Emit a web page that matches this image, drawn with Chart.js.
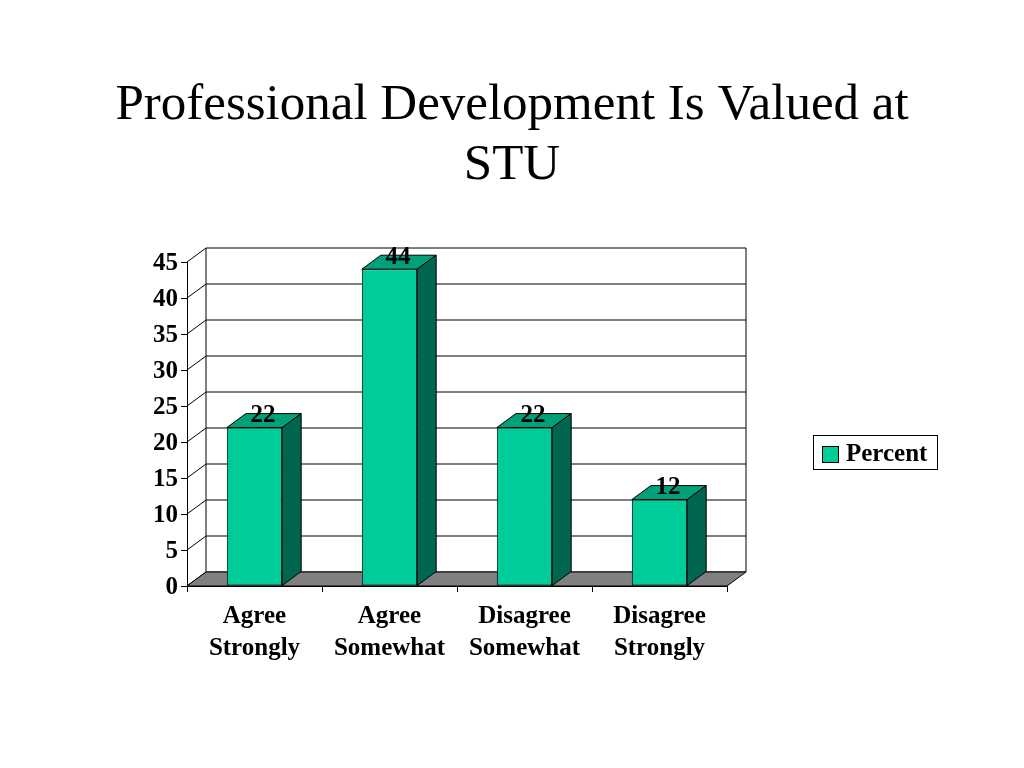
<!DOCTYPE html>
<html>
<head>
<meta charset="utf-8">
<title>Professional Development Is Valued at STU</title>
<script src="https://cdn.jsdelivr.net/npm/chart.js@4.4.1/dist/chart.umd.min.js"></script>
<style>
  body { margin: 0; background: #fff; }
  #chartBox { width: 1024px; height: 768px; }
</style>
</head>
<body>
<div id="chartBox"><canvas id="graphCanvas" width="1024" height="768"></canvas></div>
<script>
// values
var categories = [['Agree', 'Strongly'], ['Agree', 'Somewhat'], ['Disagree', 'Somewhat'], ['Disagree', 'Strongly']];
var percentValues = [22, 44, 22, 12];
var seriesName = 'Percent';
var titleLines = ['Professional Development Is Valued at', 'STU'];
var yMin = 0, yMax = 45, yStep = 5;

var serif = "'Liberation Serif', 'Times New Roman', serif";
var frontColor = '#00cc99';
var topColor = '#00a07a';
var sideColor = '#006650';
var floorColor = '#808080';
var depthX = 19, depthY = -14;

function poly(ctx, pts, fill) {
  ctx.beginPath();
  ctx.moveTo(pts[0][0], pts[0][1]);
  for (var i = 1; i < pts.length; i++) ctx.lineTo(pts[i][0], pts[i][1]);
  ctx.closePath();
  if (fill) { ctx.fillStyle = fill; ctx.fill(); }
  ctx.stroke();
}

// walls, floor, 3d faces of the columns, title and legend box
var boxPlugin = {
  id: 'box3d',
  beforeDatasetsDraw: function(chart) {
    var ctx = chart.ctx, area = chart.chartArea, y = chart.scales.y;
    ctx.save();
    ctx.strokeStyle = '#000';
    ctx.lineWidth = 1;
    y.ticks.forEach(function(t) {
      var py = y.getPixelForValue(t.value);
      ctx.beginPath();
      ctx.moveTo(area.left, py);
      ctx.lineTo(area.left + depthX, py + depthY);
      ctx.lineTo(area.right + depthX, py + depthY);
      ctx.stroke();
    });
    var top = y.getPixelForValue(yMax) + depthY;
    var bottom = y.getPixelForValue(yMin);
    ctx.beginPath();
    ctx.moveTo(area.left + depthX, top);
    ctx.lineTo(area.left + depthX, bottom + depthY);
    ctx.moveTo(area.right + depthX, top);
    ctx.lineTo(area.right + depthX, bottom + depthY);
    ctx.stroke();
    poly(ctx, [[area.left, bottom], [area.right, bottom], [area.right + depthX, bottom + depthY], [area.left + depthX, bottom + depthY]], floorColor);
    ctx.restore();
  },
  afterDatasetsDraw: function(chart) {
    var ctx = chart.ctx;
    var meta = chart.getDatasetMeta(0);
    ctx.save();
    ctx.strokeStyle = '#000';
    ctx.lineWidth = 1;
    meta.data.forEach(function(bar, i) {
      var p = bar.getProps(['x', 'y', 'base', 'width'], true);
      var l = p.x - p.width / 2, r = p.x + p.width / 2;
      poly(ctx, [[l, p.y], [r, p.y], [r + depthX, p.y + depthY], [l + depthX, p.y + depthY]], topColor);
      poly(ctx, [[r, p.y], [r + depthX, p.y + depthY], [r + depthX, p.base + depthY], [r, p.base]], sideColor);
      ctx.fillStyle = '#000';
      ctx.font = 'bold 25px ' + serif;
      ctx.textAlign = 'center';
      ctx.textBaseline = 'middle';
      ctx.fillText(String(chart.data.datasets[0].data[i]), p.x + depthX / 2 - 1, p.y - 12);
    });
    ctx.restore();
  },
  afterDraw: function(chart) {
    var ctx = chart.ctx;
    ctx.save();
    // title, centred on the slide
    ctx.fillStyle = '#000';
    ctx.font = '51px ' + serif;
    ctx.textAlign = 'center';
    ctx.textBaseline = 'middle';
    titleLines.forEach(function(line, i) {
      ctx.fillText(line, 512, 106 + i * 60);
    });
    // legend
    ctx.strokeStyle = '#000';
    ctx.lineWidth = 1;
    ctx.fillStyle = '#fff';
    ctx.fillRect(813.5, 435.5, 124, 34);
    ctx.strokeRect(813.5, 435.5, 124, 34);
    ctx.fillStyle = frontColor;
    ctx.fillRect(822.5, 446.5, 16, 16);
    ctx.strokeRect(822.5, 446.5, 16, 16);
    ctx.fillStyle = '#000';
    ctx.font = 'bold 25px ' + serif;
    ctx.textAlign = 'left';
    ctx.fillText(chart.data.datasets[0].label, 846, 455);
    ctx.restore();
  }
};

var chartdata = {
  labels: categories,
  datasets: [{
    label: seriesName,
    data: percentValues,
    backgroundColor: frontColor,
    borderColor: '#000',
    borderWidth: 1,
    borderSkipped: false,
    categoryPercentage: 1,
    barPercentage: 0.41
  }]
};

var graphTarget = document.getElementById('graphCanvas');
var barGraph = new Chart(graphTarget, {
  type: 'bar',
  data: chartdata,
  plugins: [boxPlugin],
  options: {
    responsive: false,
    animation: false,
    devicePixelRatio: 1,
    layout: { padding: { left: 137, right: 297, top: 262, bottom: 0 } },
    plugins: {
      legend: { display: false },
      tooltip: { enabled: false },
      title: { display: false }
    },
    scales: {
      x: {
        afterFit: function(scale) { scale.height = 182; },
        grid: { drawOnChartArea: false, drawTicks: true, tickLength: 6, color: '#000' },
        border: { display: true, color: '#000' },
        ticks: { color: '#000', padding: 9, maxRotation: 0, font: { family: serif, size: 25, weight: 'bold', lineHeight: 1.28 } }
      },
      y: {
        min: yMin,
        max: yMax,
        afterFit: function(scale) { scale.width = 50; },
        grid: { drawOnChartArea: false, drawTicks: true, tickLength: 6, color: '#000' },
        border: { display: true, color: '#000' },
        ticks: { stepSize: yStep, color: '#000', padding: 3, labelOffset: 2, font: { family: serif, size: 25, weight: 'bold' } }
      }
    }
  }
});
</script>
</body>
</html>
